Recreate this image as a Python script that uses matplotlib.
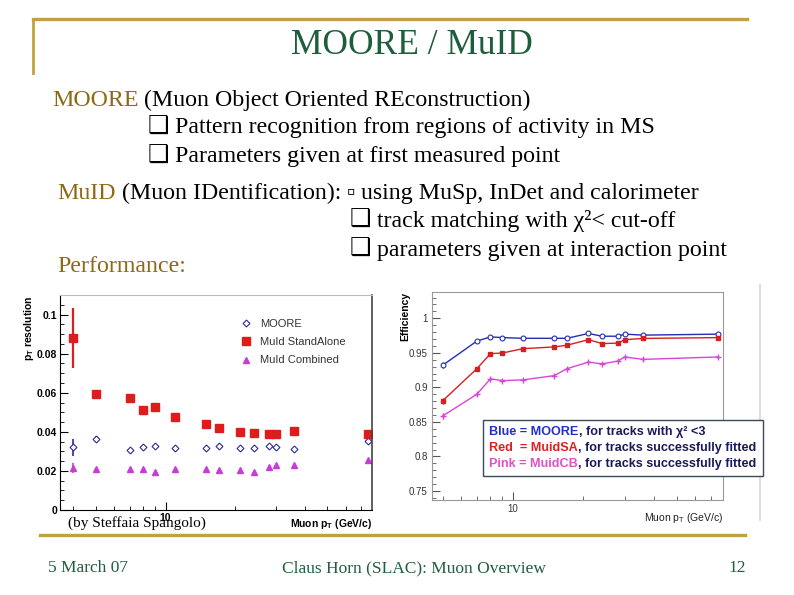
import matplotlib
matplotlib.use("Agg")
import matplotlib.pyplot as plt
from matplotlib.lines import Line2D
from matplotlib.offsetbox import TextArea, HPacker, VPacker, AnchoredOffsetbox
from matplotlib.ticker import LogLocator, NullFormatter, MultipleLocator, FuncFormatter

plt.rcParams["mathtext.fontset"] = "custom"
plt.rcParams["mathtext.rm"] = "Liberation Sans"
plt.rcParams["mathtext.it"] = "Liberation Sans:italic"
plt.rcParams["mathtext.bf"] = "Liberation Sans:bold"

# muon pT points (GeV/c)
pt = [4, 5, 7, 8, 9, 11, 15, 17, 21, 24, 28, 30, 36, 75]

# pT resolution (left plot)
res_moore = [0.032, 0.0363, 0.0307, 0.0322, 0.033, 0.0317, 0.0317, 0.0327, 0.0317, 0.0317, 0.0329, 0.0322, 0.031, 0.0353]
res_moore_err = [0.0045, 0.0015, 0.0007, 0.0008, 0.0007, 0.0007, 0.0006, 0.0006, 0.0006, 0.0006, 0.0006, 0.0006, 0.0006, 0.0006]
res_sa = [0.0881, 0.0591, 0.0571, 0.0514, 0.0525, 0.0475, 0.0438, 0.0417, 0.0397, 0.0392, 0.039, 0.039, 0.0404, 0.039]
res_sa_err = [0.0155, 0.0015, 0.0015, 0.001, 0.001, 0.001, 0.0008, 0.0008, 0.0008, 0.0008, 0.0008, 0.0008, 0.0008, 0.0008]
res_cb = [0.0213, 0.021, 0.0208, 0.021, 0.0196, 0.0211, 0.021, 0.0204, 0.0206, 0.0196, 0.022, 0.023, 0.023, 0.0257]
res_cb_err = [0.0025, 0.0005, 0.0005, 0.0005, 0.0005, 0.0005, 0.0005, 0.0005, 0.0005, 0.0005, 0.0005, 0.0005, 0.0005, 0.0005]

# efficiency (right plot), no 4 GeV point
eff_pt = pt[1:]
eff_moore = [0.932, 0.967, 0.973, 0.972, 0.971, 0.971, 0.971, 0.978, 0.974, 0.974, 0.977, 0.9756, 0.977]
eff_sa = [0.8806, 0.927, 0.9488, 0.9497, 0.956, 0.9585, 0.961, 0.969, 0.9634, 0.964, 0.969, 0.9708, 0.972]
eff_cb = [0.8586, 0.890, 0.9123, 0.9098, 0.9108, 0.917, 0.927, 0.9366, 0.934, 0.938, 0.944, 0.9405, 0.944]
eff_err = [0.004, 0.003, 0.002, 0.002, 0.002, 0.002, 0.002, 0.002, 0.002, 0.002, 0.002, 0.002, 0.002]

W, H = 794, 595
GOLD = "#c0a040"
GOLD_TXT = "#8c6a14"
GREEN = "#1e5e3c"
SERIF = ["Liberation Serif", "DejaVu Sans"]
SANS = "Liberation Sans"


def fx(x):
    return x / W


def fy(y):
    return 1 - y / H


def rich(fig, x, y, parts, size, family=SERIF, loc="center left", weight="normal"):
    """Row of differently coloured text pieces, placed at pixel position."""
    areas = [TextArea(t, textprops=dict(color=c, fontsize=size, family=family, fontweight=weight))
             for t, c in parts]
    box = HPacker(children=areas, align="baseline", pad=0, sep=0)
    anch = AnchoredOffsetbox(loc=loc, child=box, pad=0, borderpad=0, frameon=False,
                             bbox_to_anchor=(fx(x), fy(y)), bbox_transform=fig.transFigure)
    fig.add_artist(anch)


fig = plt.figure(figsize=(W / 100, H / 100), dpi=100)

# slide frame
fig.add_artist(Line2D([fx(33), fx(747)], [fy(19), fy(19)], color=GOLD, lw=2.4))
fig.add_artist(Line2D([fx(33), fx(33)], [fy(19), fy(73)], color=GOLD, lw=2.0))
fig.add_artist(Line2D([fx(40), fx(745)], [fy(535), fy(535)], color=GOLD, lw=2.4))
fig.add_artist(Line2D([fx(760), fx(760)], [fy(285), fy(520)], color="#dddddd", lw=1.5))

fig.text(fx(412), fy(45), "MOORE / MuID", color=GREEN, fontsize=25.5, family=SERIF,
         ha="center", va="center")

body = 17.2
rich(fig, 52, 100, [("MOORE", GOLD_TXT), (" (Muon Object Oriented REconstruction)", "black")], body)
rich(fig, 148, 128, [("\u2751 ", "black"), ("Pattern recognition from regions of activity in MS", "black")], body)
rich(fig, 148, 157, [("\u2751 ", "black"), ("Parameters given at first measured point", "black")], body)
rich(fig, 57, 193, [("MuID", GOLD_TXT), (" (Muon IDentification): ", "black"), ("\u25ab", "black"),
                    (" using MuSp, InDet and calorimeter", "black")], body)
rich(fig, 350, 221, [("\u2751 ", "black"), ("track matching with \u03c7\u00b2< cut-off", "black")], body)
rich(fig, 350, 250, [("\u2751 ", "black"), ("parameters given at interaction point", "black")], body)
fig.text(fx(57), fy(266), "Performance:", color=GOLD_TXT, fontsize=body, family=SERIF, ha="left", va="center")

# footer
fig.text(fx(48), fy(568), "5 March 07", color=GREEN, fontsize=12.5, family=SERIF, ha="left", va="center")
fig.text(fx(414), fy(568), "Claus Horn (SLAC): Muon Overview", color=GREEN, fontsize=12.5,
         family=SERIF, ha="center", va="center")
fig.text(fx(746), fy(568), "12", color=GREEN, fontsize=12.5, family=SERIF, ha="right", va="center")

# ---- left plot: pT resolution ----
ax1 = fig.add_axes([fx(60), fy(510), (372 - 60) / W, (510 - 295) / H])
c_moore = ax1.errorbar(pt, res_moore, yerr=res_moore_err, fmt="D", ms=3.5, mfc="white", mec="#2a2a9a",
                       mew=0.8, ecolor="#2a2a9a", elinewidth=1.2, capsize=0, label="MOORE")
c_sa = ax1.errorbar(pt, res_sa, yerr=res_sa_err, fmt="s", ms=5.5, color="#dd1c1c",
                    elinewidth=1.6, capsize=0, label="MuId StandAlone")
c_cb = ax1.errorbar(pt, res_cb, yerr=res_cb_err, fmt="^", ms=4, color="#c83cd8",
                    elinewidth=1.2, capsize=0, label="MuId Combined")
ax1.set_xscale("log")
ax1.set_xlim(3.5, 78)
ax1.set_ylim(0, 0.11)
ax1.set_xticks([10])
ax1.set_xticklabels(["10"])
ax1.xaxis.set_minor_locator(LogLocator(base=10, subs=range(2, 10)))
ax1.xaxis.set_minor_formatter(NullFormatter())
ax1.yaxis.set_major_locator(MultipleLocator(0.02))
ax1.yaxis.set_minor_locator(MultipleLocator(0.005))
ax1.yaxis.set_major_formatter(FuncFormatter(lambda v, _: f"{v:g}"))
ax1.tick_params(which="both", direction="in", top=False, right=False, labelsize=7.5, pad=2)
ax1.tick_params(which="major", length=6)
ax1.tick_params(which="minor", length=3)
for lab in ax1.get_xticklabels() + ax1.get_yticklabels():
    lab.set_fontweight("bold")
    lab.set_family(SANS)
ax1.set_ylabel(r"$\mathbf{p_T}$ resolution", loc="top", fontsize=7.5, fontweight="bold", family=SANS, labelpad=0.5)
ax1.set_xlabel(r"Muon $\mathbf{p_T}$ (GeV/c)", loc="right", fontsize=7.5, fontweight="bold", family=SANS, labelpad=-4)
ax1.spines["top"].set_color("#bbbbbb")
ax1.spines["right"].set_color("#444444")
ax1.spines["right"].set_linewidth(1.2)
leg = ax1.legend([c_moore.lines[0], c_sa.lines[0], c_cb.lines[0]],
                 ["MOORE", "MuId StandAlone", "MuId Combined"],
                 loc="center left", bbox_to_anchor=(0.56, 0.781), frameon=False, borderpad=0,
                 handlelength=1.0, handletextpad=0.8, labelspacing=0.75,
                 prop=dict(family=SANS, size=8))
for t in leg.get_texts():
    t.set_color("#333333")
fig.text(fx(68), fy(523), "(by Steffaia Spangolo)", fontsize=11, family=SERIF, ha="left", va="center")

# ---- right plot: efficiency ----
ax2 = fig.add_axes([fx(432), fy(500), (723 - 432) / W, (500 - 292) / H])
ax2.errorbar(eff_pt, eff_moore, yerr=eff_err, fmt="-o", ms=3.5, mfc="white", mec="#2330b0", color="#2330b0",
             lw=1.0, mew=0.8, capsize=0)
ax2.errorbar(eff_pt, eff_sa, yerr=eff_err, fmt="-s", ms=3.5, color="#d42020", lw=1.0, capsize=0)
ax2.errorbar(eff_pt, eff_cb, yerr=eff_err, fmt="-+", ms=5, color="#d846d8", lw=1.0, capsize=0)
ax2.set_xscale("log")
ax2.set_xlim(4.5, 79)
ax2.set_ylim(0.737, 1.038)
ax2.set_xticks([10])
ax2.set_xticklabels(["10"])
ax2.xaxis.set_minor_locator(LogLocator(base=10, subs=range(2, 10)))
ax2.xaxis.set_minor_formatter(NullFormatter())
ax2.yaxis.set_major_locator(MultipleLocator(0.05))
ax2.yaxis.set_minor_locator(MultipleLocator(0.01))
ax2.yaxis.set_major_formatter(FuncFormatter(lambda v, _: f"{v:g}"))
ax2.tick_params(which="both", direction="in", top=False, right=False, labelsize=7, pad=3,
                color="#555555", labelcolor="#333333")
ax2.tick_params(which="major", length=6)
ax2.tick_params(which="minor", length=3)
for lab in ax2.get_xticklabels() + ax2.get_yticklabels():
    lab.set_family(SANS)
ax2.set_ylabel("Efficiency", loc="top", fontsize=7.5, fontweight="bold", family=SANS, labelpad=-1)
ax2.set_xlabel(r"Muon $\mathrm{p_T}$ (GeV/c)", loc="right", fontsize=7.5, family=SANS, labelpad=-2, color="#222222")
for s in ax2.spines.values():
    s.set_color("#999999")

# right plot legend box
NAVY = "#1a1a5c"
rows = [
    [("Blue = MOORE", "#2330c8"), (", for tracks with \u03c7\u00b2 <3", NAVY)],
    [("Red  = MuidSA", "#dd2020"), (", for tracks successfully fitted", NAVY)],
    [("Pink = MuidCB", "#e050c8"), (", for tracks successfully fitted", NAVY)],
]
packs = []
for row in rows:
    areas = [TextArea(t, textprops=dict(color=c, fontsize=9.1, family=SANS, fontweight="bold")) for t, c in row]
    packs.append(HPacker(children=areas, align="baseline", pad=0, sep=0))
vbox = VPacker(children=packs, align="left", pad=0, sep=2.8)
box = AnchoredOffsetbox(loc="upper left", child=vbox, pad=0.5, borderpad=0, frameon=True,
                        bbox_to_anchor=(fx(483), fy(420)), bbox_transform=fig.transFigure,
                        prop=dict(size=9))
box.patch.set_edgecolor("#3a4a5a")
box.patch.set_linewidth(1.0)
box.set_zorder(5)
fig.add_artist(box)

fig.savefig("out.png", dpi=100)
